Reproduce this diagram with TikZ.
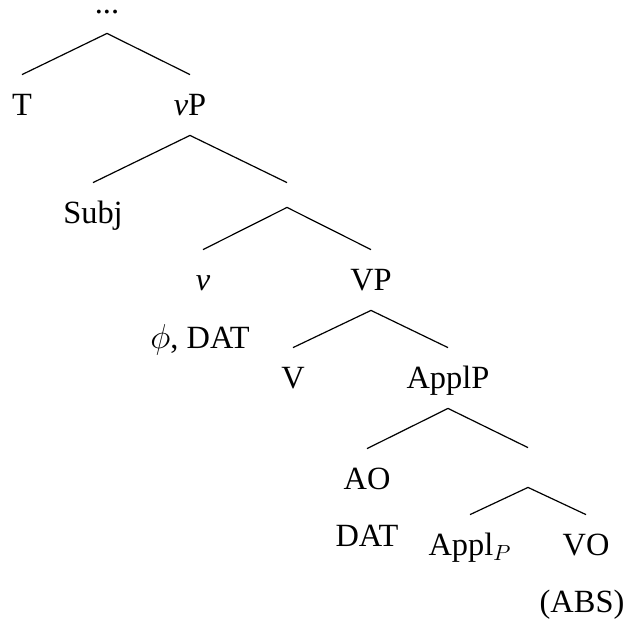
\documentclass[tikz,border=0pt]{standalone}
\usepackage{fontspec}
\setmainfont{Liberation Serif}

\begin{document}
\begin{tikzpicture}[x=0.5pt,y=-0.5pt,
  every node/.style={font=\fontsize{16.2}{19}\selectfont},
  lbl/.style={anchor=base,inner sep=0pt,text height=20pt,text depth=10pt},
  note/.style={anchor=base,inner sep=0pt},
  gap/.style={inner sep=0pt,minimum width=0pt},
  branch/.style={line width=0.6pt}]
\useasboundingbox (0,0) rectangle (630,623);
\node[lbl,text height=0pt] (top) at (107,13) {...};
\node[lbl] (T) at (22,115) {T};
\node[lbl] (vP) at (190,115) {\textit{v}P};
\node[lbl] (Subj) at (93,223) {Subj};
\node[gap,minimum height=12pt] (e1) at (287,195) {};
\node[lbl] (v) at (203,290) {\textit{v}};
\node[note] (vfeat) at (200,348) {$\phi$, DAT};
\node[lbl] (VP) at (371,290) {VP};
\node[lbl] (V) at (293,388) {V};
\node[lbl] (ApplP) at (448,388) {ApplP};
\node[lbl] (AO) at (367,489) {AO};
\node[note] (AOcase) at (367,546) {DAT};
\node[gap,minimum height=19.5pt] (e2) at (528,467.5) {};
\node[lbl] (Appl) at (470,555) {Appl$_P$};
\node[lbl] (VO) at (586,555) {VO};
\node[note] (VOcase) at (582,612) {(ABS)};
\draw[branch] (top.south) -- (T.north);
\draw[branch] (top.south) -- (vP.north);
\draw[branch] (vP.south) -- (Subj.north);
\draw[branch] (vP.south) -- (e1.north);
\draw[branch] (e1.south) -- (v.north);
\draw[branch] (e1.south) -- (VP.north);
\draw[branch] (VP.south) -- (V.north);
\draw[branch] (VP.south) -- (ApplP.north);
\draw[branch] (ApplP.south) -- (AO.north);
\draw[branch] (ApplP.south) -- (e2.north);
\draw[branch] (e2.south) -- (Appl.north);
\draw[branch] (e2.south) -- (VO.north);
\end{tikzpicture}
\end{document}
